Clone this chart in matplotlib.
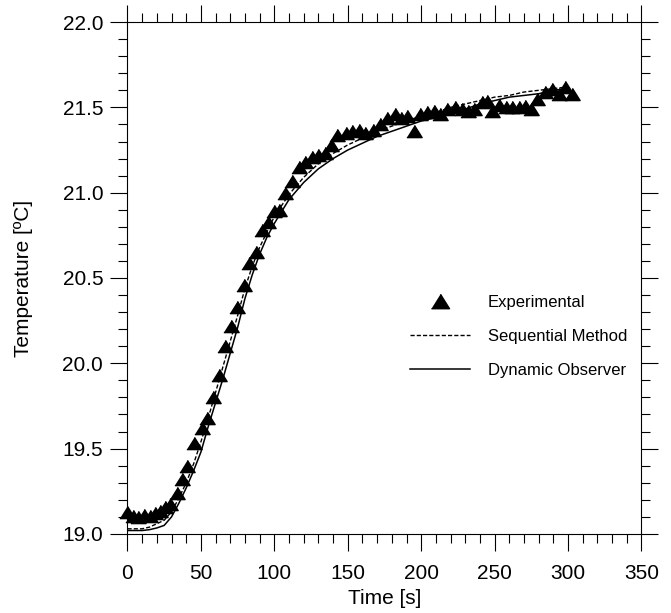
import numpy as np
import matplotlib
matplotlib.use("Agg")
import matplotlib.pyplot as plt
from matplotlib.ticker import MultipleLocator, FormatStrFormatter
from matplotlib.lines import Line2D

plt.rcParams['font.family'] = ['Liberation Sans', 'DejaVu Sans']

# experimental points
exp_t = [0, 3.8, 7.3, 11.4, 15.3, 18.7, 22, 25.5, 29, 33.5, 37, 40.4, 45,
         50.5, 54, 58.5, 62.5, 66.5, 70.5, 74.5, 79, 83, 87.5, 91.5, 96, 99.5,
         103.5, 107.5, 112, 116.5, 121, 125.5, 130, 134.5, 138.5, 143,
         148.5, 153, 157.5, 162, 167.5, 172, 176.5, 182, 186, 190.5, 195,
         199.5, 204, 208.5, 213, 217.5, 223, 228, 232, 236, 241.5, 245, 248.5,
         253, 257.5, 262, 266.5, 271, 275, 279, 284.5, 289, 293.5, 298, 302.5]
exp_T = [19.13, 19.105, 19.10, 19.11, 19.105, 19.12, 19.135, 19.16, 19.175, 19.24, 19.32, 19.40, 19.53,
         19.62, 19.68, 19.80, 19.93, 20.10, 20.22, 20.33, 20.46, 20.59, 20.65, 20.78, 20.83, 20.89,
         20.90, 21.00, 21.07, 21.15, 21.18, 21.21, 21.22, 21.23, 21.28, 21.34,
         21.35, 21.36, 21.37, 21.35, 21.37, 21.40, 21.44, 21.46, 21.44, 21.45, 21.36,
         21.46, 21.47, 21.48, 21.46, 21.49, 21.50, 21.49, 21.48, 21.49, 21.53, 21.54, 21.48,
         21.515, 21.50, 21.50, 21.50, 21.51, 21.49, 21.55, 21.59, 21.61, 21.58, 21.62, 21.58]

model_t = [0, 5, 10, 15, 20, 25, 30, 35, 40, 45, 50, 55, 60, 65, 70, 75, 80, 85, 90, 95,
           100, 110, 120, 130, 140, 150, 160, 170, 180, 190, 200, 210, 220, 230, 240,
           250, 260, 270, 280, 290, 300]
sequential = [19.03, 19.03, 19.03, 19.04, 19.06, 19.08, 19.13, 19.21, 19.30, 19.41, 19.54,
              19.68, 19.83, 19.98, 20.13, 20.28, 20.44, 20.57, 20.68, 20.77,
              20.86, 20.99, 21.09, 21.17, 21.23, 21.28, 21.32, 21.36, 21.39, 21.42,
              21.45, 21.47, 21.50, 21.52, 21.54, 21.56, 21.57, 21.59, 21.60, 21.61, 21.62]
observer = [19.02, 19.02, 19.02, 19.025, 19.035, 19.05, 19.10, 19.18, 19.27, 19.37, 19.48,
            19.63, 19.77, 19.91, 20.06, 20.21, 20.38, 20.52, 20.64, 20.74,
            20.82, 20.96, 21.06, 21.14, 21.20, 21.25, 21.29, 21.33, 21.36, 21.39,
            21.42, 21.44, 21.47, 21.49, 21.52, 21.54, 21.56, 21.57, 21.58, 21.60, 21.61]

# slightly flattened triangle like the original
tri = [(-1, -0.8), (1, -0.8), (0, 0.8)]

fig = plt.figure(figsize=(6.71, 6.13), dpi=100)
ax = fig.add_axes([0.190, 0.129, 0.766, 0.835])

ax.plot(model_t, sequential, color='black', lw=1.0, ls=(0, (3, 1.5)))
ax.plot(model_t, observer, color='black', lw=1.1)
ax.plot(exp_t, exp_T, ls='none', marker=tri, ms=11, color='black', clip_on=False)

ax.set_xlim(0, 350)
ax.set_ylim(19, 22)
ax.xaxis.set_major_locator(MultipleLocator(50))
ax.xaxis.set_minor_locator(MultipleLocator(10))
ax.yaxis.set_major_locator(MultipleLocator(0.5))
ax.yaxis.set_minor_locator(MultipleLocator(0.1))
ax.yaxis.set_major_formatter(FormatStrFormatter('%.1f'))
ax.tick_params(which='both', direction='out', top=True, right=True, width=0.8, labelsize=15)
ax.tick_params(which='major', length=12)
ax.tick_params(which='minor', length=6.5)
ax.tick_params(axis='x', pad=10)
ax.tick_params(axis='y', pad=5.5)
for s in ax.spines.values():
    s.set_linewidth(0.8)

ax.set_xlabel('Time [s]', fontsize=15, labelpad=4)
ax.set_ylabel('Temperature [ºC]', fontsize=15, labelpad=21.5)

handles = [Line2D([], [], ls='none', marker=tri, ms=13, color='black'),
           Line2D([], [], color='black', lw=1.0, ls=(0, (3, 1.5))),
           Line2D([], [], color='black', lw=1.1)]
ax.legend(handles, ['Experimental', 'Sequential Method', 'Dynamic Observer'],
          loc='center left', bbox_to_anchor=(0.52, 0.386), frameon=False,
          fontsize=12, handlelength=3.6, labelspacing=1.14, handletextpad=1.1)

fig.savefig('out.png', dpi=100)
